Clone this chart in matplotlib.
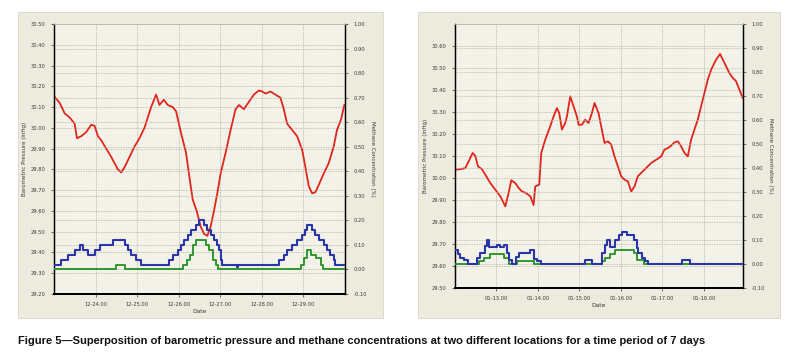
import matplotlib
matplotlib.use("Agg")
import matplotlib.pyplot as plt
from matplotlib.patches import Rectangle

# ---------------------------------------------------
# left chart: 12-23 to 12-30 (x in days from 12-23 00:00)
left_days = [0.016, 0.136, 0.256, 0.376, 0.496, 0.552, 0.656, 0.776, 0.896, 0.976,
             1.056, 1.136, 1.256, 1.376, 1.456, 1.536, 1.616, 1.696, 1.816, 1.936,
             2.056, 2.176, 2.256, 2.336, 2.456, 2.536, 2.64, 2.736, 2.856, 2.936,
             3.056, 3.176, 3.256, 3.336, 3.432, 3.528, 3.608, 3.688, 3.768, 3.848,
             3.928, 4.008, 4.128, 4.248, 4.368, 4.448, 4.568, 4.688, 4.808, 4.928,
             5.008, 5.088, 5.208, 5.328, 5.448, 5.528, 5.608, 5.728, 5.848, 5.968,
             6.048, 6.128, 6.208, 6.288, 6.368, 6.488, 6.608, 6.728, 6.808, 6.904, 6.984]
left_pressure = [30.15, 30.12, 30.07, 30.05, 30.02, 29.95, 29.96, 29.98, 30.015, 30.01,
                 29.96, 29.94, 29.90, 29.86, 29.83, 29.80, 29.785, 29.81, 29.86, 29.91,
                 29.95, 30.00, 30.05, 30.10, 30.16, 30.11, 30.135, 30.11, 30.10, 30.08,
                 29.975, 29.88, 29.765, 29.655, 29.60, 29.525, 29.49, 29.48, 29.525, 29.60,
                 29.685, 29.78, 29.88, 29.99, 30.09, 30.11, 30.09, 30.125, 30.16, 30.18,
                 30.175, 30.165, 30.175, 30.16, 30.145, 30.09, 30.02, 29.99, 29.96, 29.895,
                 29.81, 29.72, 29.685, 29.69, 29.725, 29.78, 29.83, 29.91, 29.99, 30.04, 30.11]

left_blue_days = [0.0, 0.176, 0.336, 0.496, 0.616, 0.696, 0.816, 0.976, 1.096, 1.416,
                  1.696, 1.776, 1.856, 1.976, 2.096, 2.776, 2.856, 2.976, 3.056, 3.136,
                  3.216, 3.296, 3.416, 3.496, 3.608, 3.688, 3.768, 3.848, 3.928, 3.976,
                  4.016, 4.048, 4.392, 4.424, 5.408, 5.528, 5.608, 5.728, 5.848, 5.968,
                  6.04, 6.088, 6.208, 6.288, 6.368, 6.488, 6.568, 6.648, 6.728, 6.768, 7.0]
left_blue = [0.02, 0.04, 0.06, 0.08, 0.10, 0.08, 0.06, 0.08, 0.10, 0.12,
             0.10, 0.08, 0.06, 0.04, 0.02, 0.04, 0.06, 0.08, 0.10, 0.12,
             0.14, 0.16, 0.18, 0.20, 0.18, 0.16, 0.14, 0.12, 0.10, 0.08,
             0.04, 0.02, 0.01, 0.02, 0.04, 0.06, 0.08, 0.10, 0.12, 0.14,
             0.16, 0.18, 0.16, 0.14, 0.12, 0.10, 0.08, 0.06, 0.04, 0.02, 0.02]

left_green_days = [0.0, 1.496, 1.696, 3.112, 3.192, 3.272, 3.336, 3.416, 3.656, 3.736,
                   3.816, 3.896, 3.936, 5.936, 6.016, 6.096, 6.176, 6.296, 6.416, 6.472, 7.0]
left_green = [0.0, 0.02, 0.0, 0.02, 0.04, 0.06, 0.10, 0.12, 0.10, 0.08,
              0.04, 0.02, 0.0, 0.02, 0.045, 0.08, 0.06, 0.045, 0.02, 0.0, 0.0]

left_xlabels = ["12-24.00", "12-25.00", "12-26.00", "12-27.00", "12-28.00", "12-29.00"]

# ---------------------------------------------------
# right chart: 01-12 to 01-19 (x in days from 01-12 00:00)
right_days = [0.008, 0.128, 0.249, 0.329, 0.425, 0.490, 0.554, 0.650, 0.730, 0.851,
              0.971, 1.091, 1.212, 1.292, 1.356, 1.453, 1.533, 1.613, 1.709, 1.814,
              1.894, 1.934, 2.030, 2.079, 2.175, 2.295, 2.376, 2.456, 2.512, 2.576,
              2.657, 2.697, 2.777, 2.857, 2.937, 2.978, 3.058, 3.138, 3.218, 3.299,
              3.363, 3.459, 3.523, 3.604, 3.684, 3.764, 3.844, 3.925, 4.005, 4.085,
              4.165, 4.246, 4.326, 4.406, 4.486, 4.567, 4.647, 4.727, 4.848, 4.968,
              5.048, 5.128, 5.209, 5.289, 5.369, 5.449, 5.530, 5.610, 5.690, 5.770,
              5.851, 5.931, 6.011, 6.092, 6.172, 6.292, 6.388, 6.453, 6.533, 6.613,
              6.693, 6.774, 6.854, 6.934]
right_pressure = [30.038, 30.04, 30.045, 30.076, 30.114, 30.10, 30.053, 30.04, 30.015, 29.977,
                  29.947, 29.917, 29.871, 29.932, 29.99, 29.977, 29.955, 29.939, 29.932, 29.917,
                  29.877, 29.962, 29.970, 30.114, 30.174, 30.235, 30.28, 30.318, 30.295, 30.22,
                  30.25, 30.28, 30.371, 30.326, 30.28, 30.242, 30.242, 30.265, 30.25, 30.295,
                  30.341, 30.295, 30.235, 30.159, 30.167, 30.152, 30.098, 30.053, 30.008, 29.992,
                  29.985, 29.939, 29.962, 30.008, 30.023, 30.038, 30.053, 30.068, 30.083, 30.098,
                  30.129, 30.136, 30.147, 30.162, 30.167, 30.144, 30.114, 30.098, 30.174, 30.22,
                  30.265, 30.326, 30.386, 30.447, 30.492, 30.538, 30.564, 30.538, 30.508, 30.477,
                  30.455, 30.44, 30.402, 30.364]

right_blue_days = [0.0, 0.072, 0.128, 0.209, 0.313, 0.530, 0.610, 0.730, 0.770, 0.827,
                   1.011, 1.091, 1.172, 1.252, 1.308, 1.372, 1.469, 1.533, 1.814, 1.894,
                   1.974, 2.079, 3.138, 3.299, 3.539, 3.604, 3.660, 3.740, 3.860, 3.941,
                   4.021, 4.141, 4.302, 4.382, 4.422, 4.502, 4.583, 4.663, 5.465, 5.666, 6.94]
right_blue = [0.06, 0.04, 0.025, 0.015, 0.0, 0.025, 0.045, 0.075, 0.10, 0.07,
              0.08, 0.07, 0.08, 0.045, 0.015, 0.0, 0.03, 0.045, 0.06, 0.02,
              0.012, 0.0, 0.015, 0.0, 0.045, 0.08, 0.10, 0.07, 0.10, 0.12,
              0.135, 0.12, 0.10, 0.065, 0.045, 0.025, 0.012, 0.0, 0.015, 0.0, 0.0]

right_green_days = [0.0, 0.570, 0.690, 0.851, 1.172, 1.292, 1.493, 1.894, 3.539, 3.620,
                    3.740, 3.860, 4.302, 4.382, 4.543, 6.94]
right_green = [0.0, 0.0125, 0.025, 0.04, 0.025, 0.0, 0.0125, 0.0, 0.0125, 0.025,
               0.04, 0.06, 0.045, 0.015, 0.0, 0.0]

right_xlabels = ["01-13.00", "01-14.00", "01-15.00", "01-16.00", "01-17.00", "01-18.00"]

caption = ("Figure 5\u2014Superposition of barometric pressure and methane concentrations "
           "at two different locations for a time period of 7 days")

RED = "#e0261c"
BLUE = "#2a35a8"
GREEN = "#2f962f"
TXT = "#3a3a3a"

fig = plt.figure(figsize=(7.92, 3.6), dpi=100)
fig.patch.set_facecolor("white")

# beige frames behind each chart
for x0, w in [(0.0227, 0.4609), (0.5278, 0.457)]:
    fig.add_artist(Rectangle((x0, 0.1167), w, 0.85, transform=fig.transFigure,
                             facecolor="#ecebdd", edgecolor="#d8d7c8", lw=0.6, zorder=0))


def make_panel(rect, days, pres, bdays, blue, gdays, green, plim, pticks, xlabels, xmax):
    ax = fig.add_axes(rect)
    ax.set_facecolor("#f3f2e8")
    ax.set_zorder(1)
    ax2 = ax.twinx()
    ax.set_xlim(0, xmax)
    ax.set_ylim(*plim)
    ax.set_yticks(pticks)
    ax.set_yticklabels(["%.2f" % v for v in pticks])
    ax.set_xticks(range(1, 7))
    ax.set_xticklabels(xlabels)
    ax2.set_ylim(-0.10, 1.00)
    mticks = [i / 10 for i in range(-1, 11)]
    ax2.set_yticks(mticks)
    ax2.set_yticklabels(["%.2f" % v for v in mticks])

    ax.grid(True, color="#b5b4a6", linestyle=(0, (1, 1)), lw=0.6)
    ax2.grid(True, axis="y", color="#b5b4a6", linestyle=(0, (1, 1)), lw=0.6)

    ax.plot(days, pres, color=RED, lw=1.3, zorder=3)
    ax2.step(gdays, green, where="post", color=GREEN, lw=1.4, zorder=3)
    ax2.step(bdays, blue, where="post", color=BLUE, lw=1.5, zorder=4)

    for a in (ax, ax2):
        a.tick_params(labelsize=3.7, colors=TXT, length=2, width=0.5, pad=4)
        a.spines["top"].set_color("#bdbcb0")
        a.spines["top"].set_linewidth(0.6)
        for s in ("left", "right", "bottom"):
            a.spines[s].set_color("black")
        a.spines["left"].set_linewidth(0.9)
        a.spines["right"].set_linewidth(0.9)
        a.spines["bottom"].set_linewidth(1.4)
    ax.set_xlabel("Date", fontsize=4.3, color=TXT, labelpad=1.5)
    ax.set_ylabel("Barometric Pressure (inHg)", fontsize=4.0, color=TXT, labelpad=3)
    ax2.set_ylabel("Methane Concentration (%)", fontsize=4.0, color=TXT,
                   rotation=270, labelpad=6)
    return ax, ax2


make_panel([0.0682, 0.1833, 0.3674, 0.75], left_days, left_pressure,
           left_blue_days, left_blue, left_green_days, left_green,
           (29.20, 30.50), [29.2 + i / 10 for i in range(14)], left_xlabels, 7.0)

make_panel([0.5745, 0.2, 0.3636, 0.7333], right_days, right_pressure,
           right_blue_days, right_blue, right_green_days, right_green,
           (29.50, 30.70), [29.5 + i / 10 for i in range(12)], right_xlabels, 6.94)

fig.text(0.0227, 0.052, caption, fontsize=8.0, fontweight="bold",
         family=["Liberation Sans", "DejaVu Sans"], color="#111111", va="center")

fig.savefig("out.png", dpi=100)
